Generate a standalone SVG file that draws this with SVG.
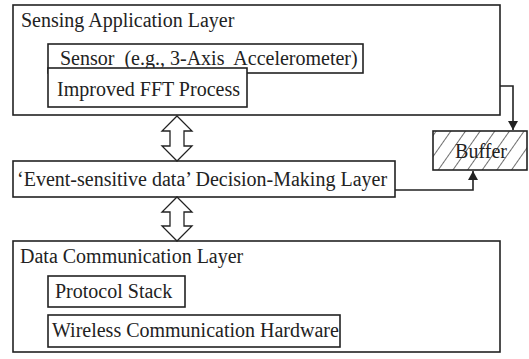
<svg xmlns="http://www.w3.org/2000/svg" width="529" height="359" viewBox="0 0 529 359">
<style>
.box{fill:#fff;stroke:#222;stroke-width:1.6}
.t{font-family:"Liberation Serif","Times New Roman",serif;font-size:20px;fill:#222}
.conn{fill:none;stroke:#222;stroke-width:1.6}
.dbl{fill:#fff;stroke:#222;stroke-width:1.3;stroke-linejoin:miter}
</style>
<defs>
<marker id="ah" markerWidth="10" markerHeight="10" refX="9" refY="5" orient="auto" markerUnits="userSpaceOnUse" viewBox="0 0 10 10">
<path d="M0,0 L9,5 L0,10 Z" fill="#222"/>
</marker>
<pattern id="hatch" patternUnits="userSpaceOnUse" width="12" height="12" patternTransform="rotate(35)">
<line x1="0" y1="0" x2="0" y2="12" stroke="#222" stroke-width="1.3"/>
</pattern>
</defs>
<rect width="529" height="359" fill="#fff"/>
<g id="sensing-layer">
<rect class="box" x="13" y="5" width="487" height="110"/>
<text class="t" x="21" y="27">Sensing Application Layer</text>
</g>
<g id="sensor">
<rect class="box" x="48" y="44" width="315" height="29"/>
<text class="t" x="60" y="65" xml:space="preserve">Sensor  (e.g., 3-Axis  Accelerometer)</text>
</g>
<g id="fft">
<rect class="box" x="48" y="68" width="199" height="39"/>
<text class="t" x="57" y="96">Improved FFT Process</text>
</g>
<g id="decision-layer">
<rect class="box" x="13" y="161" width="382" height="36"/>
<text class="t" x="17" y="186">‘Event-sensitive data’ Decision-Making Layer</text>
</g>
<g id="buffer">
<rect x="433" y="131" width="94" height="39" fill="url(#hatch)" stroke="#222" stroke-width="1.6"/>
<text class="t" x="481" y="158" text-anchor="middle" fill="#444">Buffer</text>
</g>
<g id="comm-layer">
<rect class="box" x="13" y="241" width="487" height="111"/>
<text class="t" x="20" y="263">Data Communication Layer</text>
</g>
<g id="protocol">
<rect class="box" x="48" y="276" width="137" height="31"/>
<text class="t" x="55" y="298">Protocol Stack</text>
</g>
<g id="wireless">
<rect class="box" x="48" y="315" width="292" height="32"/>
<text class="t" x="52" y="337">Wireless Communication Hardware</text>
</g>
<g id="connectors">
<path class="dbl" d="M177,116 L192,131 L184,131 L184,146 L192,146 L177,161 L162,146 L170,146 L170,131 L162,131 Z"/>
<path class="dbl" d="M177,197 L192,212 L184,212 L184,226 L192,226 L177,241 L162,226 L170,226 L170,212 L162,212 Z"/>
<path class="conn" d="M500,86 H513 V130" marker-end="url(#ah)"/>
<path class="conn" d="M395,190 H473 V171" marker-end="url(#ah)"/>
</g>
</svg>
